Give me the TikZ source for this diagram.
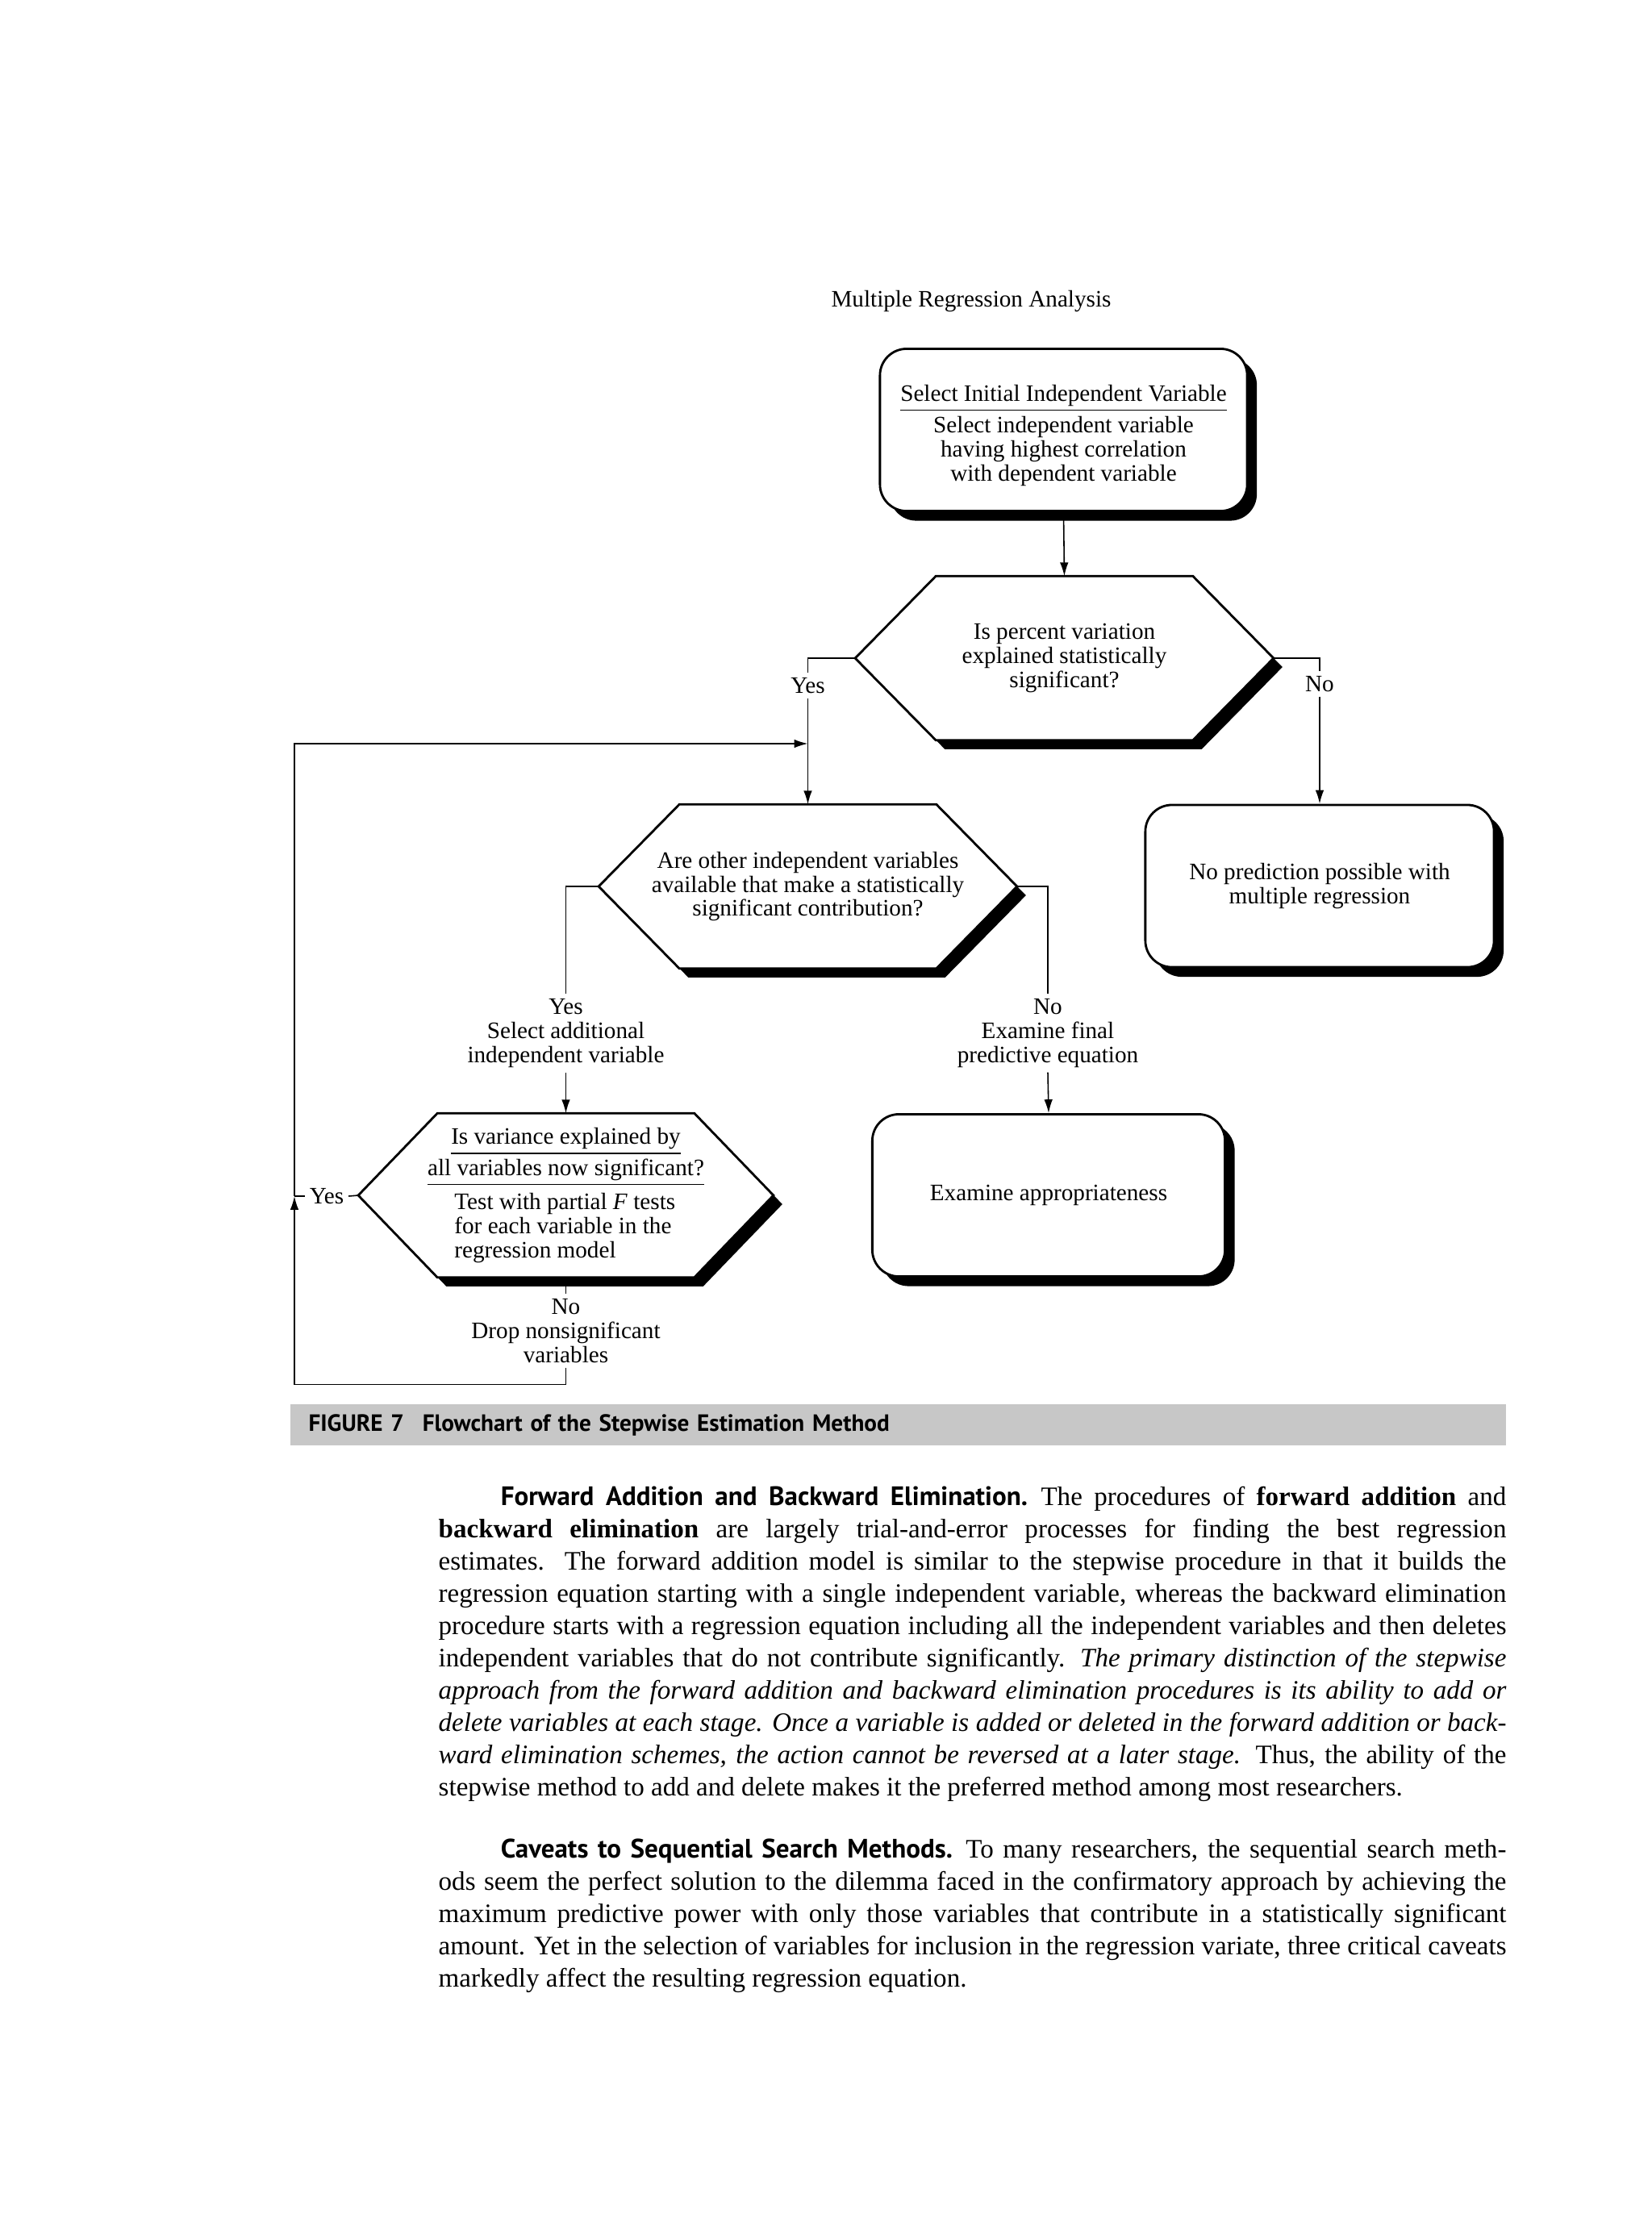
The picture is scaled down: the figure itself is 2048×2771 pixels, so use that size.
\documentclass[tikz,border=0pt]{standalone}
\usepackage{fontspec}
\setmainfont{Liberation Serif}
\newfontfamily\headfont{PT Sans}
\usetikzlibrary{shadows,backgrounds,arrows.meta}

\newcommand{\chartfont}{\fontsize{8.3}{8.5}\selectfont}
\newcommand{\leftrow}[1]{\makebox[2.76cm][l]{#1}}
\newcommand{\hexa}[2]{%
  \begin{scope}[on background layer]
    \fill ([xshift=1.1mm,yshift=-1.1mm]#1.west) -- ([xshift=#2+1.1mm,yshift=-1.1mm]#1.north west) -- ([xshift=-#2+1.1mm,yshift=-1.1mm]#1.north east) -- ([xshift=1.1mm,yshift=-1.1mm]#1.east) -- ([xshift=-#2+1.1mm,yshift=-1.1mm]#1.south east) -- ([xshift=#2+1.1mm,yshift=-1.1mm]#1.south west) -- cycle;
    \draw[hexline,fill=white] (#1.west) -- ([xshift=#2]#1.north west) -- ([xshift=-#2]#1.north east) -- (#1.east) -- ([xshift=-#2]#1.south east) -- ([xshift=#2]#1.south west) -- cycle;
  \end{scope}}

\begin{document}
\begin{tikzpicture}[x=0.01cm,y=-0.01cm,>={Latex[length=4.8pt,width=3pt]},
    every node/.style={font=\chartfont},
    conn/.style={line width=0.45pt},
    hexline/.style={line width=0.8pt},
    hexnode/.style={align=center,minimum height=2.02cm,inner sep=0pt},
    roundbox/.style={draw,line width=0.8pt,fill=white,rounded corners=0.33cm,align=center,minimum height=2.01cm,
        drop shadow={fill=black,opacity=1,shadow xshift=0.12cm,shadow yshift=-0.12cm}},
    lbl/.style={fill=white,inner sep=1.5pt,align=center},
    bodytext/.style={anchor=north west,inner sep=0pt,text width=13.23cm,align=justify,
        font=\fontsize{9.4}{11.38}\selectfont},
    capband/.style={fill=black!22,minimum width=15.07cm,minimum height=0.43cm,text width=14.61cm,
        align=left,inner xsep=0.23cm,font=\headfont\bfseries\fontsize{8.3}{9}\selectfont}]
  \useasboundingbox (0,0) rectangle (2048,2771);

  \node (title) at (1204,373.5) {Multiple Regression Analysis};

  \node[roundbox,minimum width=4.55cm] (seltop) at (1318.5,533)
      {\mbox{}\\[1pt]\underline{Select Initial Independent Variable}\\[0.6pt]Select independent variable\\having highest correlation\\with dependent variable};
  \node[hexnode,minimum width=5.17cm] (hexsig) at (1319.5,816) {Is percent variation\\explained statistically\\significant?};
  \hexa{hexsig}{1cm}
  \node[roundbox,minimum width=4.32cm] (nopred) at (1636,1098.5) {No prediction possible with\\multiple regression};
  \node[hexnode,minimum width=5.17cm] (hexother) at (1001.5,1099) {Are other independent variables\\available that make a statistically\\significant contribution?};
  \hexa{hexother}{1cm}
  \node[lbl] (addvar) at (701.5,1281) {Yes\\Select additional\\independent variable};
  \node[lbl] (finaleq) at (1299,1281) {No\\Examine final\\predictive equation};
  \node[hexnode,minimum width=5.13cm] (hexvar) at (701.5,1482)
      {\underline{Is variance explained by}\\[0.4pt]\underline{all variables now significant?}\\[1.4pt]\leftrow{Test with partial \textit{F} tests}\\\leftrow{for each variable in the}\\\leftrow{regression model}};
  \hexa{hexvar}{0.98cm}
  \node[roundbox,minimum width=4.37cm] (appr) at (1300,1482) {Examine appropriateness};
  \node[lbl] (dropvar) at (701.5,1650) {No\\Drop nonsignificant\\variables};
  \node[lbl] (yes1) at (1001.5,850) {Yes};
  \node[lbl] (no1) at (1636,848) {No};
  \node[lbl] (yes3) at (405,1483) {Yes};

  \coordinate (loopbl) at (365,1716.5);
  \coordinate (yesjoin) at (365,1483);
  \coordinate (looptl) at (365,922);
  \coordinate (merge) at (1001.5,922);

  \draw[conn,->] (seltop.south) -- (hexsig.north);
  \draw[conn] (hexsig.west) -| (yes1.north);
  \draw[conn,->] (yes1.south) -- (hexother.north);
  \draw[conn] (hexsig.east) -| (no1.north);
  \draw[conn,->] (no1.south) -- (nopred.north);
  \draw[conn] (hexother.west) -| (addvar.north);
  \draw[conn,->] (addvar.south) -- (hexvar.north);
  \draw[conn] (hexother.east) -| (finaleq.north);
  \draw[conn,->] (finaleq.south) -- (appr.north);
  \draw[conn] (hexvar.south) -- (dropvar.north);
  \draw[conn,->] (dropvar.south) |- (loopbl) -- (yesjoin);
  \draw[conn,->] (yesjoin) -- (looptl) -- (merge);
  \draw[conn] (hexvar.west) -- (yes3.east);
  \draw[conn] (yes3.west) -- (yesjoin);

  \node[capband] (figcap) at (1113.5,1766.5) {FIGURE 7\hspace{0.23cm}Flowchart of the Stepwise Estimation Method};

  \node[bodytext] (para1) at (543,1842) {\hspace*{0.77cm}{\headfont\bfseries Forward Addition and Backward Elimination.}\enskip The procedures of \textbf{forward addition} and\linebreak
    \textbf{backward elimination} are largely trial-and-error processes for finding the best regression\linebreak
    estimates. The forward addition model is similar to the stepwise procedure in that it builds the\linebreak
    regression equation starting with a single independent variable, whereas the backward elimination\linebreak
    procedure starts with a regression equation including all the independent variables and then deletes\linebreak
    independent variables that do not contribute significantly. \textit{The primary distinction of the stepwise\linebreak
    approach from the forward addition and backward elimination procedures is its ability to add or\linebreak
    delete variables at each stage. Once a variable is added or deleted in the forward addition or back-\linebreak
    ward elimination schemes, the action cannot be reversed at a later stage.} Thus, the ability of the\linebreak
    stepwise method to add and delete makes it the preferred method among most researchers.};
  \node[bodytext] (para2) at (543,2279) {\hspace*{0.77cm}{\headfont\bfseries Caveats to Sequential Search Methods.}\enskip To many researchers, the sequential search meth-\linebreak
    ods seem the perfect solution to the dilemma faced in the confirmatory approach by achieving the\linebreak
    maximum predictive power with only those variables that contribute in a statistically significant\linebreak
    amount. Yet in the selection of variables for inclusion in the regression variate, three critical caveats\linebreak
    markedly affect the resulting regression equation.};
\end{tikzpicture}
\end{document}
